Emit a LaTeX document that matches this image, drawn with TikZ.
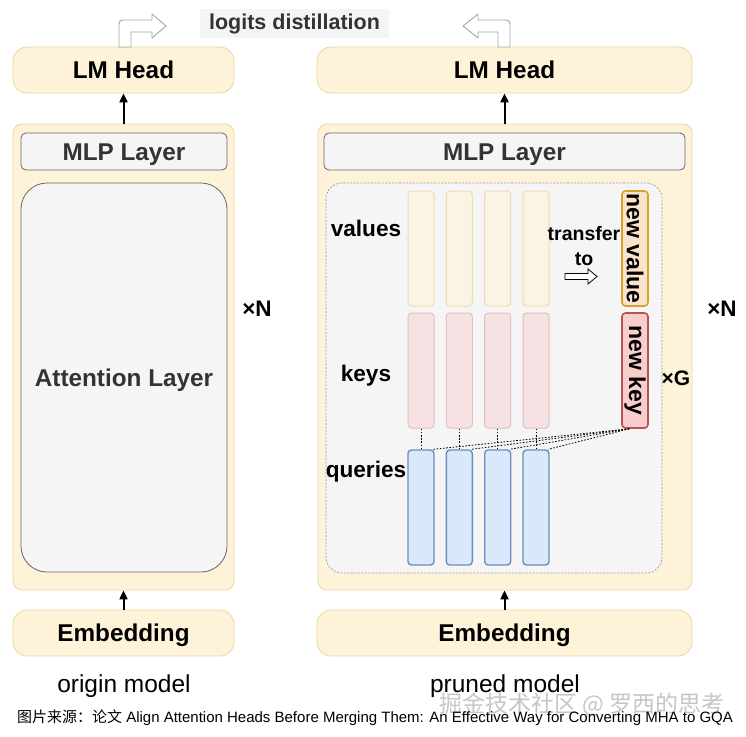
\documentclass[tikz,border=0pt]{standalone}
\usepackage{fontspec}
\setmainfont{Liberation Sans}
\newfontfamily\cjk{Noto Sans CJK SC}
\usetikzlibrary{calc,arrows.meta}
\definecolor{yfill}{HTML}{FEF3D8}
\definecolor{ydraw}{HTML}{EBD6A6}
\definecolor{gfill}{HTML}{F5F5F5}
\definecolor{gdraw}{HTML}{666666}
\definecolor{txtg}{HTML}{333333}
\definecolor{vfill}{HTML}{FBF3E3}
\definecolor{vdraw}{HTML}{EEDDB2}
\definecolor{kfill}{HTML}{F6E2E2}
\definecolor{kdraw}{HTML}{E4BFBF}
\definecolor{qfill}{HTML}{DAE8FC}
\definecolor{qdraw}{HTML}{6C8EBF}
\definecolor{nvfill}{HTML}{FBE3CB}
\definecolor{nvdraw}{HTML}{D6A32A}
\definecolor{nkfill}{HTML}{F8CECC}
\definecolor{nkdraw}{HTML}{B85450}
\newcommand\fsz[1]{\fontsize{#1}{#1}\selectfont}
\begin{document}
\begin{tikzpicture}[x=1pt,y=-1pt,
  ybox/.style={draw=ydraw, fill=yfill, line width=0.8pt, inner sep=0pt},
  gbox/.style={draw=gdraw, fill=gfill, line width=0.8pt, inner sep=0pt, rounded corners=5pt},
  col/.style={line width=1pt, rounded corners=3.5pt, minimum width=26pt, minimum height=115pt, inner sep=0pt},
  vcol/.style={col, draw=vdraw, fill=vfill},
  kcol/.style={col, draw=kdraw, fill=kfill},
  qcol/.style={col, draw=qdraw, fill=qfill, line width=1.4pt},
  bigtxt/.style={font=\fsz{24.3}\bfseries, text height=17.4pt, text depth=0pt},
  midtxt/.style={font=\fsz{22.6}\bfseries},
  lbl/.style={inner sep=0pt},
  blk/.style={line width=2pt, -{Triangle[length=9pt,width=8pt]}},
  dotl/.style={line width=0.8pt, dash pattern=on 1.6pt off 1.6pt},
  hollow/.style={draw=gray!70, fill=white, line width=0.9pt, line join=round}
]
\useasboundingbox (0,0) rectangle (746,736);
\fill[white] (0,0) rectangle (746,736);

% ---------------- left model ----------------
\node[ybox, rounded corners=14pt, minimum width=221pt, minimum height=46pt, bigtxt] (lmL) at (123.5,70) {LM Head};
\node[ybox, rounded corners=9pt, minimum width=221pt, minimum height=466pt] (outL) at (123.5,357) {};
\node[gbox, minimum width=206pt, minimum height=37pt, bigtxt, text=txtg] (mlpL) at (124,151.5) {MLP Layer};
\node[gbox, rounded corners=26pt, minimum width=206pt, minimum height=389pt, bigtxt, text=txtg] (attL) at (124,377.5) {Attention Layer};
\node[ybox, rounded corners=14pt, minimum width=221pt, minimum height=46pt, bigtxt] (embL) at (123.5,633) {Embedding};
\draw[blk] (outL.north) -- (lmL.south);
\draw[blk] (embL.north) -- (outL.south);
\node[lbl, font=\fsz{22.5}\bfseries] (nL) at (257,309) {×N};
\node[lbl, font=\fsz{24.5}] (orig) at (124,686) {origin model};

% ---------------- right model ----------------
\node[ybox, rounded corners=14pt, minimum width=375pt, minimum height=46pt, bigtxt] (lmR) at (504.5,70) {LM Head};
\node[ybox, rounded corners=9pt, minimum width=374pt, minimum height=466pt] (outR) at (505,357) {};
\node[gbox, minimum width=361pt, minimum height=37pt, bigtxt, text=txtg] (mlpR) at (504.5,151.5) {MLP Layer};
\node[draw=gray!80, fill=gfill, dash pattern=on 2pt off 1.5pt, line width=0.7pt, rounded corners=16pt, minimum width=336pt, minimum height=390pt, inner sep=0pt] (dashR) at (494,378) {};
\node[ybox, rounded corners=14pt, minimum width=375pt, minimum height=46pt, bigtxt] (embR) at (504.5,633) {Embedding};
\draw[blk] (lmR.south |- outR.north) -- (lmR.south);
\draw[blk] (embR.north) -- (embR.north |- outR.south);
\node[lbl, font=\fsz{22.5}\bfseries] (nR) at (722,309) {×N};
\node[lbl, font=\fsz{24.5}] (prun) at (505,686) {pruned model};

% columns
\foreach \i/\x in {1/421,2/459.3,3/497.7,4/536}{
  \node[vcol] (v\i) at (\x,248.5) {};
  \node[kcol] (k\i) at (\x,370.5) {};
  \node[qcol] (q\i) at (\x,507.5) {};
}
\node[col, draw=nvdraw, fill=nvfill, line width=1.6pt, font=\fsz{23}\bfseries] (nv) at (635,248.5) {\rotatebox{-90}{new value}};
\node[col, draw=nkdraw, fill=nkfill, line width=1.6pt, font=\fsz{23}\bfseries] (nk) at (635,370.5) {\rotatebox{-90}{new key}};

\node[lbl, midtxt] (vals) at (366,228) {values};
\node[lbl, midtxt] (keys) at (366,376) {keys};
\node[lbl, midtxt] (qrs) at (366,472) {queries};
\node[lbl, font=\fsz{19.5}\bfseries] (tr) at (584,234) {transfer};
\node[lbl, font=\fsz{19.5}\bfseries] (to) at (584,259) {to};
\node[lbl, font=\fsz{21}\bfseries] (xg) at (676,378) {×G};

% transfer arrow
\draw[line width=0.8pt, fill=white, line join=miter] (565,273.5) -- (588,273.5) -- (588,269) -- (597,276.5) -- (588,284) -- (588,279.5) -- (565,279.5) -- cycle;

% dotted connections
\foreach \i in {1,2,3,4}{
  \draw[dotl] (k\i.south) -- (q\i.north);
  \draw[dotl] ($(nk.south west)+(8,0)$) -- ($(q\i.north east)+(-1.5,0)$);
}

% ---------------- top ----------------
\node[fill=gfill, minimum width=189pt, minimum height=29pt, inner sep=0pt, font=\fsz{21.5}\bfseries, text=txtg] (logit) at (294.5,23.5) {logits distillation};
\draw[hollow] (119,47) -- (119,28) .. controls (119,20) .. (127,20) -- (152,20) -- (152,14) -- (166,26) -- (152,38) -- (152,32) -- (131,32) -- (131,47) -- cycle;
\draw[hollow] (510,47) -- (510,28) .. controls (510,20) .. (502,20) -- (478,20) -- (478,14) -- (463,26) -- (478,38) -- (478,32) -- (498,32) -- (498,47) -- cycle;

% ---------------- caption & watermark ----------------
\node[lbl, font=\fsz{23}\cjk, text=gray!45] (wm) at (582,705) {掘金技术社区 @ 罗西的思考};
\node[lbl, font=\fsz{15}] (cap) at (375,718) {{\cjk 图片来源：论文} Align Attention Heads Before Merging Them: An Effective Way for Converting MHA to GQA};
\end{tikzpicture}
\end{document}
